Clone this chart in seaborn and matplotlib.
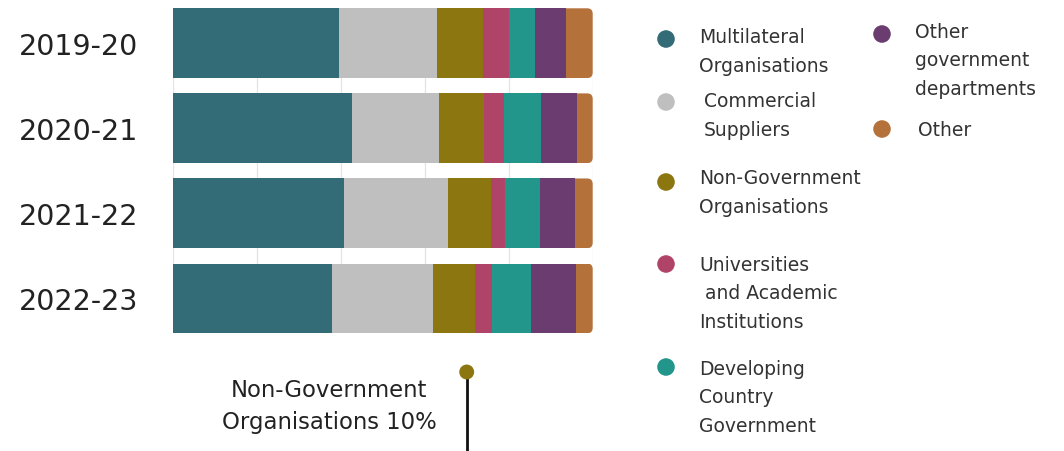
import matplotlib
matplotlib.use("Agg")
import matplotlib.pyplot as plt
from matplotlib.patches import FancyBboxPatch
from matplotlib.transforms import blended_transform_factory
import numpy as np
import pandas as pd
import seaborn as sns

# Share of spend by recipient type, per financial year (percent)
years = ["2019-20", "2020-21", "2021-22", "2022-23"]
categories = [
    "Multilateral Organisations",
    "Commercial Suppliers",
    "Non-Government Organisations",
    "Universities and Academic Institutions",
    "Developing Country Government",
    "Other government departments",
    "Other",
]
multilateral = [39.5, 42.7, 40.7, 38.0]
commercial = [23.5, 20.6, 24.8, 24.0]
ngo = [10.8, 10.7, 10.2, 10.0]
universities = [6.3, 4.8, 3.4, 4.0]
developing_gov = [6.1, 9.0, 8.3, 9.2]
other_gov = [7.4, 8.4, 8.3, 10.8]
other = [6.4, 3.8, 4.3, 4.0]

colors = ["#336b76", "#bfbfbf", "#8c7610", "#b04468", "#22968a", "#6a3c70", "#b5713a"]

series = [multilateral, commercial, ngo, universities, developing_gov, other_gov, other]
df = pd.DataFrame({c: v for c, v in zip(categories, series)}, index=years)
cum = df.cumsum(axis=1)

sns.set_theme(style="white")
plt.rcParams["font.family"] = ["DejaVu Sans"]

W, H = 1064, 452
fig = plt.figure(figsize=(W / 100, H / 100), dpi=100)

# Bar panel placement (pixels)
left_px, right_px, top_px, bot_px = 172.7, 592.7, 9.3, 334.3
ax = fig.add_axes([left_px / W, 1 - bot_px / H, (right_px - left_px) / W, (bot_px - top_px) / H])

bar_h = 0.82
# Stacked bars: draw cumulative totals from the last category to the first
for i in range(len(categories) - 1, -1, -1):
    sns.barplot(x=cum.iloc[:, i].values, y=years, orient="h", color=colors[i],
                saturation=1, width=bar_h, linewidth=0, ax=ax, zorder=2)
    if i == len(categories) - 1:
        # rounded right end of each bar
        for j, patch in enumerate(ax.patches):
            clip = FancyBboxPatch((0, j - bar_h / 2), 100, bar_h,
                                  boxstyle="round,pad=0,rounding_size=1.3",
                                  mutation_aspect=0.05, transform=ax.transData,
                                  facecolor="none", edgecolor="none")
            patch.set_clip_path(clip)

ax.set_xlim(0, 100)
ax.set_ylim(len(years) - 1 + bar_h / 2, -bar_h / 2)
ax.set_xticks([0, 20, 40, 60, 80, 100])
ax.xaxis.grid(True, color="#e4e4e4", linewidth=0.9)
ax.yaxis.grid(False)
ax.set_axisbelow(True)
ax.tick_params(axis="x", length=0, labelbottom=False)
ax.tick_params(axis="y", length=0, pad=25, labelsize=20.5, labelcolor="#222222")
ax.set_xlabel("")
ax.set_ylabel("")
for s in ax.spines.values():
    s.set_visible(False)

# Overlay in pixel coordinates for legend and annotation
ov = fig.add_axes([0, 0, 1, 1], facecolor="none")
ov.set_xlim(0, W)
ov.set_ylim(H, 0)
ov.axis("off")

txt_kw = dict(fontsize=13.5, color="#333333", va="center", ha="left", linespacing=1.62)
legend_items = [
    # (marker x, marker y, text x, text y, label)
    (666, 40, 699, 52, "Multilateral\nOrganisations"),
    (666, 103, 704, 116, "Commercial\nSuppliers"),
    (666, 183, 699, 193, "Non-Government\nOrganisations"),
    (666, 265, 699, 294, "Universities\n and Academic\nInstitutions"),
    (666, 368, 699, 398, "Developing\nCountry\nGovernment"),
    (882, 35, 915, 61, "Other\ngovernment\ndepartments"),
    (882, 130, 918, 131, "Other"),
]
for (mx, my, tx, ty, lab), c in zip(legend_items, colors):
    ov.scatter([mx], [my], s=160, color=c, edgecolor="none")
    ov.text(tx, ty, lab, **txt_kw)

# Lollipop callout for the NGO share in the latest year
last = len(years) - 1
ngo_idx = categories.index("Non-Government Organisations")
ngo_start = cum.iloc[last, ngo_idx - 1]
ngo_val = df.iloc[last, ngo_idx]
px_x = ngo_start + 0.8 * ngo_val
tr = blended_transform_factory(ax.transData, ov.transData)
ov.plot([px_x, px_x], [373, H + 5], color="#111111", lw=2, transform=tr, clip_on=False)
ov.scatter([px_x], [373], s=115, color=colors[2], edgecolor="none", transform=tr, zorder=3)
ov.text(329, 407, f"Non-Government\nOrganisations {ngo_val:.0f}%", fontsize=16.4,
        color="#222222", ha="center", va="center", linespacing=1.5)

fig.savefig("out.png", dpi=100)
